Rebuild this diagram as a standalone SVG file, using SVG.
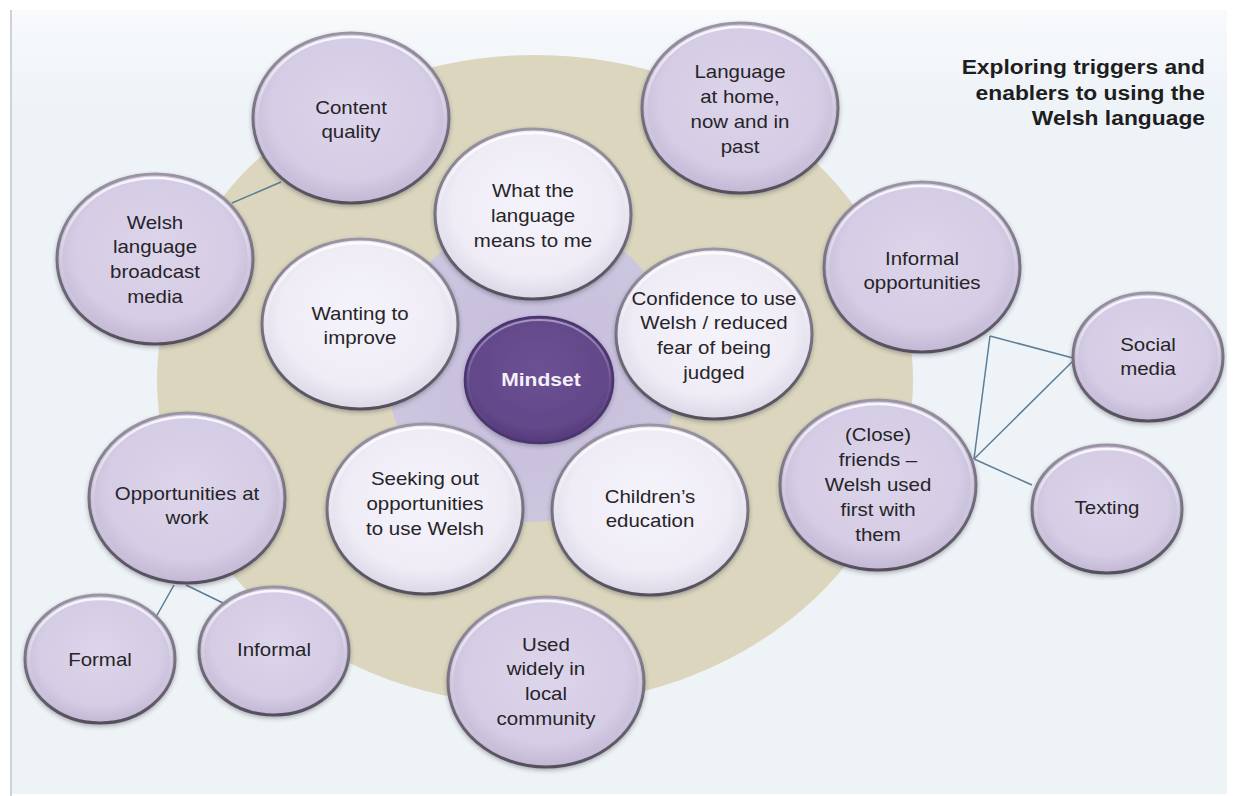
<svg xmlns="http://www.w3.org/2000/svg" width="1240" height="796" viewBox="0 0 1240 796">
<defs>
<style>
.t{font-family:"Liberation Sans",Arial,sans-serif;font-size:17.5px;fill:#262428;text-anchor:middle}
.title{font-family:"Liberation Sans",Arial,sans-serif;font-size:19.5px;font-weight:bold;fill:#1e1e1e;text-anchor:end}
.mind{font-family:"Liberation Sans",Arial,sans-serif;font-size:18px;font-weight:bold;fill:#f4f0fa;text-anchor:middle}
.outer{fill:url(#gOuter);stroke:url(#gStroke);stroke-width:3;filter:url(#sh)}
.inner{fill:url(#gInner);stroke:url(#gStroke);stroke-width:3;filter:url(#sh)}
.hl{fill:none;stroke:url(#gHl);stroke-width:2.5}
.mset{fill:url(#gMind);stroke:#4b3670;stroke-width:2.5;filter:url(#sh)}
.link{stroke:#5b7d96;stroke-width:1.5;fill:none}
</style>
<linearGradient id="gBg" x1="0" y1="0" x2="0" y2="1">
<stop offset="0" stop-color="#f8fafc"/>
<stop offset="0.12" stop-color="#eef3f8"/>
<stop offset="1" stop-color="#eef3f6"/>
</linearGradient>
<radialGradient id="gOuter" cx="50%" cy="45%" r="55%">
<stop offset="0" stop-color="#ddd5ea"/>
<stop offset="0.75" stop-color="#d5cce5"/>
<stop offset="1" stop-color="#c2b8d4"/>
</radialGradient>
<radialGradient id="gInner" cx="50%" cy="45%" r="55%">
<stop offset="0" stop-color="#f5f3fa"/>
<stop offset="0.75" stop-color="#efecf6"/>
<stop offset="1" stop-color="#dcd7e6"/>
</radialGradient>
<radialGradient id="gMind" cx="50%" cy="40%" r="60%">
<stop offset="0" stop-color="#6b5193"/>
<stop offset="0.8" stop-color="#624889"/>
<stop offset="1" stop-color="#54397a"/>
</radialGradient>
<linearGradient id="gStroke" x1="0" y1="0" x2="0" y2="1">
<stop offset="0" stop-color="#9a94a3"/>
<stop offset="1" stop-color="#55505c"/>
</linearGradient>
<linearGradient id="gHl" x1="0" y1="0" x2="0" y2="1">
<stop offset="0" stop-color="#ffffff" stop-opacity="0.85"/>
<stop offset="0.5" stop-color="#ffffff" stop-opacity="0.15"/>
<stop offset="1" stop-color="#ffffff" stop-opacity="0"/>
</linearGradient>
<radialGradient id="gLav" cx="50%" cy="50%" r="50%">
<stop offset="0" stop-color="#c5bcdb"/>
<stop offset="1" stop-color="#cdc6df"/>
</radialGradient>
<filter id="sh" x="-20%" y="-20%" width="140%" height="140%">
<feDropShadow dx="0" dy="2" stdDeviation="2" flood-color="#303040" flood-opacity="0.35"/>
</filter>
</defs>

<rect x="0" y="0" width="1240" height="796" fill="#ffffff"/>
<rect x="10" y="10" width="1217" height="784" fill="url(#gBg)"/>
<line x1="11" y1="10" x2="11" y2="796" stroke="#cfd2d6" stroke-width="2"/>

<g id="background-rings">
<ellipse cx="535" cy="380" rx="378" ry="325" fill="#dbd6bd"/>
<ellipse cx="533" cy="370" rx="146" ry="152" fill="url(#gLav)"/>
</g>

<g id="connectors">
<line class="link" x1="232" y1="203" x2="281" y2="182"/>
<line class="link" x1="174" y1="585" x2="156" y2="617"/>
<line class="link" x1="186" y1="585" x2="223" y2="603"/>
<line class="link" x1="990" y1="336" x2="1073" y2="358"/>
<line class="link" x1="990" y1="336" x2="974" y2="459"/>
<line class="link" x1="974" y1="459" x2="1073" y2="361"/>
<line class="link" x1="974" y1="459" x2="1032" y2="485"/>
</g>

<g id="n-content">
<ellipse class="outer" cx="351" cy="118" rx="98" ry="85"/>
<ellipse class="hl" cx="351" cy="118" rx="94" ry="81"/>
<text class="t" transform="translate(351,113.5) scale(1.17,1)"><tspan x="0">Content</tspan><tspan x="0" dy="25">quality</tspan></text>
</g>

<g id="n-broadcast">
<ellipse class="outer" cx="155" cy="259" rx="98" ry="85"/>
<ellipse class="hl" cx="155" cy="259" rx="94" ry="81"/>
<text class="t" transform="translate(155,228.5) scale(1.17,1)"><tspan x="0">Welsh</tspan><tspan x="0" dy="25">language</tspan><tspan x="0" dy="25">broadcast</tspan><tspan x="0" dy="25">media</tspan></text>
</g>

<g id="n-home">
<ellipse class="outer" cx="740" cy="108" rx="98" ry="85"/>
<ellipse class="hl" cx="740" cy="108" rx="94" ry="81"/>
<text class="t" transform="translate(740,78) scale(1.17,1)"><tspan x="0">Language</tspan><tspan x="0" dy="25">at home,</tspan><tspan x="0" dy="25">now and in</tspan><tspan x="0" dy="25">past</tspan></text>
</g>

<g id="n-means">
<ellipse class="inner" cx="533" cy="214" rx="98" ry="85"/>
<ellipse class="hl" cx="533" cy="214" rx="94" ry="81"/>
<text class="t" transform="translate(533,197) scale(1.17,1)"><tspan x="0">What the</tspan><tspan x="0" dy="25">language</tspan><tspan x="0" dy="25">means to me</tspan></text>
</g>

<g id="n-improve">
<ellipse class="inner" cx="360" cy="324" rx="98" ry="85"/>
<ellipse class="hl" cx="360" cy="324" rx="94" ry="81"/>
<text class="t" transform="translate(360,319.5) scale(1.17,1)"><tspan x="0">Wanting to</tspan><tspan x="0" dy="25">improve</tspan></text>
</g>

<g id="n-confidence">
<ellipse class="inner" cx="714" cy="334" rx="98" ry="85"/>
<ellipse class="hl" cx="714" cy="334" rx="94" ry="81"/>
<text class="t" transform="translate(714,304.5) scale(1.17,1)"><tspan x="0">Confidence to use</tspan><tspan x="0" dy="25">Welsh / reduced</tspan><tspan x="0" dy="25">fear of being</tspan><tspan x="0" dy="25">judged</tspan></text>
</g>

<g id="n-seeking">
<ellipse class="inner" cx="425" cy="509" rx="98" ry="85"/>
<ellipse class="hl" cx="425" cy="509" rx="94" ry="81"/>
<text class="t" transform="translate(425,485) scale(1.17,1)"><tspan x="0">Seeking out</tspan><tspan x="0" dy="25">opportunities</tspan><tspan x="0" dy="25">to use Welsh</tspan></text>
</g>

<g id="n-children">
<ellipse class="inner" cx="650" cy="510" rx="98" ry="85"/>
<ellipse class="hl" cx="650" cy="510" rx="94" ry="81"/>
<text class="t" transform="translate(650,502.5) scale(1.17,1)"><tspan x="0">Children’s</tspan><tspan x="0" dy="25">education</tspan></text>
</g>

<g id="n-mindset">
<ellipse class="mset" cx="539" cy="380" rx="74" ry="63"/>
<ellipse cx="539" cy="380" rx="71" ry="60" fill="none" stroke="url(#gHl)" stroke-width="2" opacity="0.5"/>
<text class="mind" transform="translate(541,386) scale(1.17,1)">Mindset</text>
</g>

<g id="n-informal-opp">
<ellipse class="outer" cx="922" cy="267" rx="98" ry="85"/>
<ellipse class="hl" cx="922" cy="267" rx="94" ry="81"/>
<text class="t" transform="translate(922,264.5) scale(1.17,1)"><tspan x="0">Informal</tspan><tspan x="0" dy="25">opportunities</tspan></text>
</g>

<g id="n-social">
<ellipse class="outer" cx="1148" cy="357" rx="75" ry="64"/>
<ellipse class="hl" cx="1148" cy="357" rx="71" ry="60"/>
<text class="t" transform="translate(1148,350.5) scale(1.17,1)"><tspan x="0">Social</tspan><tspan x="0" dy="25">media</tspan></text>
</g>

<g id="n-friends">
<ellipse class="outer" cx="878" cy="485" rx="98" ry="85"/>
<ellipse class="hl" cx="878" cy="485" rx="94" ry="81"/>
<text class="t" transform="translate(878,441) scale(1.17,1)"><tspan x="0">(Close)</tspan><tspan x="0" dy="25">friends –</tspan><tspan x="0" dy="25">Welsh used</tspan><tspan x="0" dy="25">first with</tspan><tspan x="0" dy="25">them</tspan></text>
</g>

<g id="n-texting">
<ellipse class="outer" cx="1107" cy="509" rx="75" ry="64"/>
<ellipse class="hl" cx="1107" cy="509" rx="71" ry="60"/>
<text class="t" transform="translate(1107,514) scale(1.17,1)">Texting</text>
</g>

<g id="n-work">
<ellipse class="outer" cx="187" cy="498" rx="98" ry="85"/>
<ellipse class="hl" cx="187" cy="498" rx="94" ry="81"/>
<text class="t" transform="translate(187,499.5) scale(1.17,1)"><tspan x="0">Opportunities at</tspan><tspan x="0" dy="25">work</tspan></text>
</g>

<g id="n-formal">
<ellipse class="outer" cx="100" cy="659" rx="75" ry="64"/>
<ellipse class="hl" cx="100" cy="659" rx="71" ry="60"/>
<text class="t" transform="translate(100,666) scale(1.17,1)">Formal</text>
</g>

<g id="n-informal">
<ellipse class="outer" cx="274" cy="651" rx="75" ry="64"/>
<ellipse class="hl" cx="274" cy="651" rx="71" ry="60"/>
<text class="t" transform="translate(274,656) scale(1.17,1)">Informal</text>
</g>

<g id="n-community">
<ellipse class="outer" cx="546" cy="682" rx="98" ry="85"/>
<ellipse class="hl" cx="546" cy="682" rx="94" ry="81"/>
<text class="t" transform="translate(546,650.5) scale(1.17,1)"><tspan x="0">Used</tspan><tspan x="0" dy="25">widely in</tspan><tspan x="0" dy="25">local</tspan><tspan x="0" dy="25">community</tspan></text>
</g>

<g id="title">
<text class="title" transform="translate(1205,74) scale(1.17,1)"><tspan x="0">Exploring triggers and</tspan><tspan x="0" dy="26">enablers to using the</tspan><tspan x="0" dy="25">Welsh language</tspan></text>
</g>
</svg>
